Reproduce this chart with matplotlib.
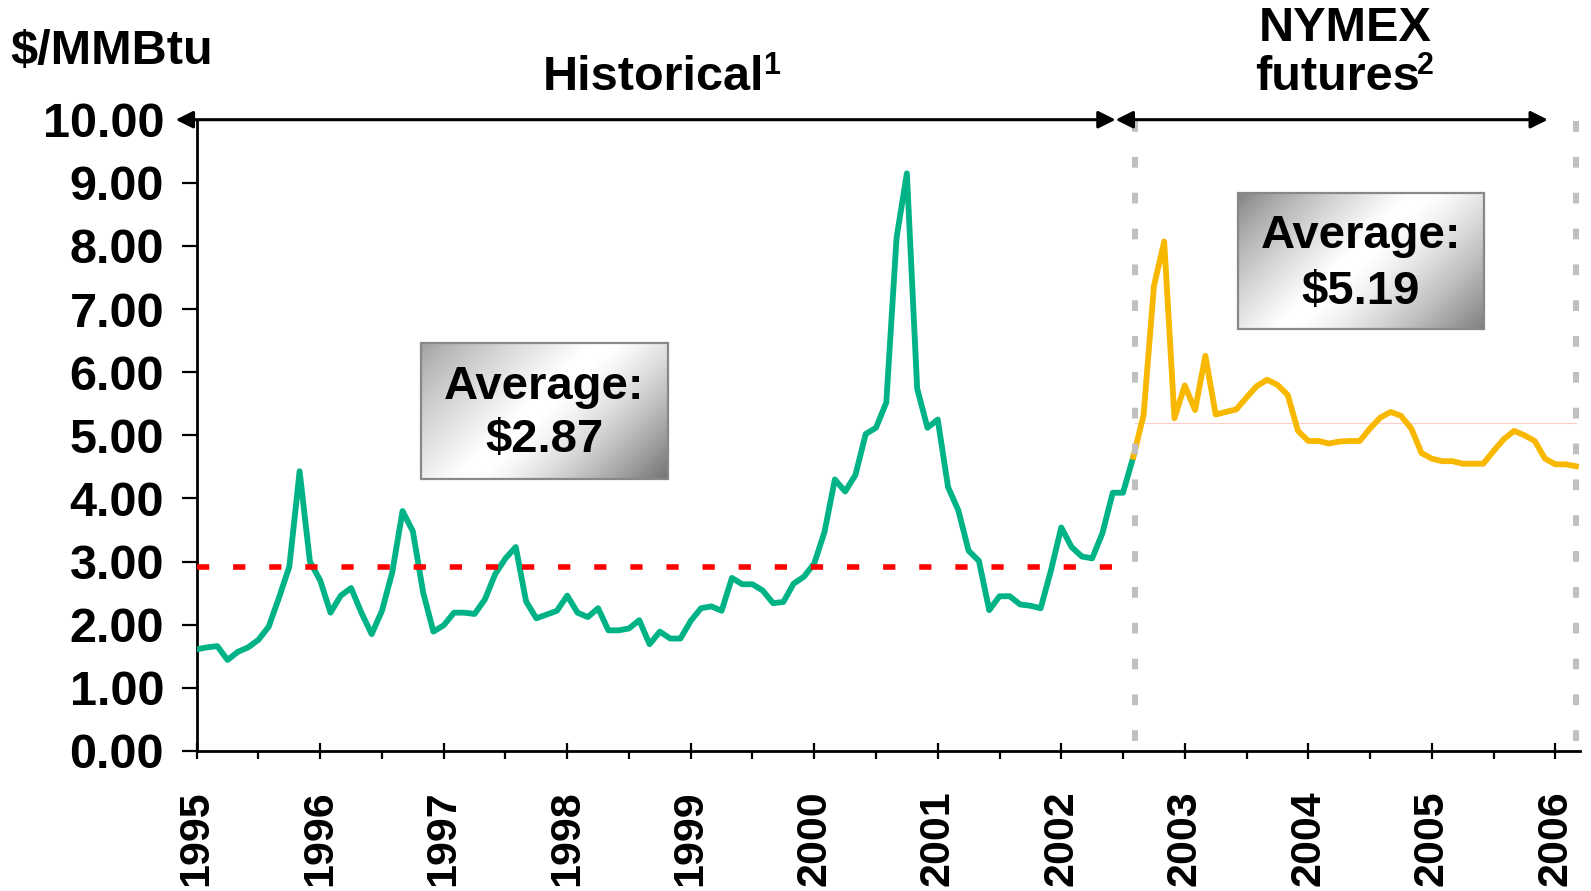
import numpy as np
import matplotlib
matplotlib.use("Agg")
import matplotlib.pyplot as plt
from matplotlib.patches import Rectangle

# ---------------- data ----------------
# Monthly historical price, Jan 1995 .. Aug 2002 ($/MMBtu)
historical = [1.61, 1.64, 1.66, 1.44, 1.57, 1.64, 1.76, 1.97, 2.43, 2.92, 4.43, 3.00,
              2.70, 2.19, 2.46, 2.58, 2.19, 1.85, 2.22, 2.83, 3.80, 3.48, 2.51, 1.89,
              1.99, 2.19, 2.19, 2.17, 2.40, 2.80, 3.05, 3.23, 2.37, 2.10, 2.16, 2.22,
              2.46, 2.19, 2.12, 2.26, 1.91, 1.91, 1.94, 2.07, 1.69, 1.89, 1.78, 1.78,
              2.06, 2.26, 2.29, 2.22, 2.74, 2.64, 2.64, 2.54, 2.34, 2.36, 2.65, 2.76,
              2.97, 3.47, 4.30, 4.11, 4.37, 5.02, 5.12, 5.52, 8.13, 9.15, 5.74, 5.12,
              5.25, 4.18, 3.81, 3.17, 3.01, 2.23, 2.45, 2.45, 2.32, 2.30, 2.26, 2.86,
              3.54, 3.23, 3.08, 3.05, 3.45, 4.09, 4.09, 4.66]
hist_start = 1995.0

# Monthly NYMEX futures, Aug 2002 .. Mar 2006
futures = [4.66, 5.32, 7.36, 8.07, 5.27, 5.79, 5.40, 6.26, 5.33, 5.37, 5.41, 5.60,
           5.78, 5.88, 5.80, 5.64, 5.07, 4.91, 4.91, 4.87, 4.90, 4.91, 4.91, 5.11,
           5.28, 5.37, 5.31, 5.11, 4.72, 4.63, 4.59, 4.59, 4.55, 4.55, 4.55, 4.75,
           4.94, 5.07, 5.00, 4.91, 4.63, 4.54, 4.54, 4.51]
fut_start = 1995.0 + 91 / 12

hist_avg = 2.87
hist_avg_line = 2.91
fut_avg = 5.19
split_year = 2002.6
end_year = 2006.17

year_ticks = list(range(1995, 2007))
y_ticks = [0, 1, 2, 3, 4, 5, 6, 7, 8, 9, 10]
y_labels = ["0.00", "1.00", "2.00", "3.00", "4.00", "5.00", "6.00", "7.00", "8.00", "9.00", "10.00"]

# ---------------- plot ----------------
plt.rcParams['font.family'] = ['Liberation Sans', 'DejaVu Sans']
plt.rcParams['font.weight'] = 'bold'

W, H = 1591, 891
fig = plt.figure(figsize=(W / 100, H / 100), dpi=100)
ax = fig.add_axes([196.7 / W, (H - 750.9) / H, (1580 - 196.7) / W, (750.9 - 119.7) / H])

green = '#00b386'
orange = '#f9b800'

xh = hist_start + np.arange(len(historical)) / 12
xf = fut_start + np.arange(len(futures)) / 12

ax.plot(xh, historical, color=green, lw=4.2, solid_joinstyle='round', zorder=4)
ax.plot(xf, futures, color=orange, lw=4.2, solid_joinstyle='round', zorder=4)

# average lines
ax.plot([hist_start, split_year], [hist_avg_line, hist_avg_line], color='#ff0000', lw=4,
        linestyle=(0, (2.2, 4.3)), zorder=5, dash_capstyle='butt')
ax.plot([split_year, end_year], [fut_avg, fut_avg], color='#ffcccc', lw=0.8, zorder=3)

# grey dashed separators
for xv in [split_year, end_year]:
    ax.plot([xv, xv], [0.15, 10.05], color='#c0c0c0', lw=4.3, linestyle=(0, (1.8, 4.2)),
            dash_capstyle='butt', zorder=6, clip_on=False)

# arrows at the top
arrow_kw = dict(arrowstyle='<|-|>', color='black', lw=2.2, mutation_scale=26,
                shrinkA=0, shrinkB=0)
ax.annotate('', xy=(2002.44, 10), xytext=(1994.83, 10), arrowprops=arrow_kw,
            annotation_clip=False, zorder=7)
ax.annotate('', xy=(2005.94, 10), xytext=(2002.44, 10), arrowprops=arrow_kw,
            annotation_clip=False, zorder=7)

# gradient boxes
def grad_box(x0, x1, y0, y1, lo_start, lo_end):
    n = 200
    u = np.linspace(0, 1, n)
    v = np.linspace(0, 1, n)
    U, V = np.meshgrid(u, v)
    t = (U * 246 + (1 - V) * 136) / (246 + 136)
    img = np.where(t < 0.45,
                   lo_start + (1 - lo_start) * np.clip(t / 0.45, 0, 1) ** 0.8,
                   1 - (1 - lo_end) * np.clip((t - 0.5) / 0.5, 0, 1) ** 1.3)
    img = np.clip(img, 0, 1)
    ax.imshow(img, extent=[x0, x1, y0, y1], origin='lower', aspect='auto',
              cmap='gray', vmin=0, vmax=1, zorder=7, interpolation='bilinear')
    ax.add_patch(Rectangle((x0, y0), x1 - x0, y1 - y0, fill=False,
                           edgecolor='#888888', lw=1.6, zorder=8))

grad_box(1996.817, 1998.814, 4.31, 6.46, 0.62, 0.45)
grad_box(2003.43, 2005.42, 6.69, 8.84, 0.5, 0.5)

txt_kw = dict(ha='center', va='center', fontsize=34, fontweight='bold', zorder=9)
ax.text(1997.815, 5.77, 'Average:', **txt_kw)
ax.text(1997.815, 4.93, f'${hist_avg:.2f}', **txt_kw)
ax.text(2004.425, 8.16, 'Average:', **txt_kw)
ax.text(2004.425, 7.27, f'${fut_avg:.2f}', **txt_kw)

# axes styling
ax.set_xlim(1995, 2006.2)
ax.set_ylim(0, 10)
for s in ['top', 'right']:
    ax.spines[s].set_visible(False)
for s in ['left', 'bottom']:
    ax.spines[s].set_linewidth(2)
ax.set_yticks(y_ticks)
ax.set_yticklabels(y_labels)
ax.set_xticks(year_ticks)
ax.set_xticklabels([str(y) for y in year_ticks], rotation=90)
ax.set_xticks([y + 0.5 for y in year_ticks[:-1]], minor=True)
ax.tick_params(axis='y', direction='out', length=10.5, width=1.6, labelsize=35, pad=13)
ax.tick_params(axis='x', which='major', direction='inout', length=11, width=1.6,
               labelsize=31, pad=23)
ax.tick_params(axis='x', which='minor', direction='out', length=6, width=1.6)
for lab in ax.get_xticklabels() + ax.get_yticklabels():
    lab.set_fontweight('bold')

# header texts
def sup_text(x, y, main, sup):
    t = fig.text(x, y, main, ha='center', va='center', fontsize=35, fontweight='bold')
    fig.canvas.draw()
    bb = t.get_window_extent()
    fig.text((bb.x1 - 2) / W, (bb.y1 + 3) / H, sup, ha='left', va='top',
             fontsize=22, fontweight='bold')

fig.text(111.6 / W, 1 - 52 / H, '$/MMBtu', ha='center', va='center', fontsize=35, fontweight='bold')
sup_text(654 / W, 1 - 77 / H, 'Historical', '1')
fig.text(1345.5 / W, 1 - 28.4 / H, 'NYMEX', ha='center', va='center', fontsize=35, fontweight='bold')
sup_text(1337 / W, 1 - 77 / H, 'futures', '2')

fig.savefig('out.png', dpi=100)
